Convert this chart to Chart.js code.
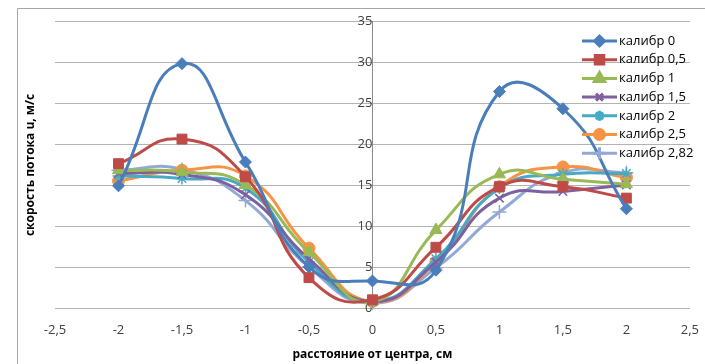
<!DOCTYPE html>
<html><head><meta charset="utf-8">
<script src="https://cdn.jsdelivr.net/npm/chart.js@4.4.1/dist/chart.umd.min.js"></script>
<style>html,body{margin:0;padding:0;background:#fff}#wrap{width:705px;height:364px;position:relative}</style>
</head><body><div id="wrap"><canvas id="c" width="705" height="364"></canvas></div>
<script>
const xValues = [-2, -1.5, -1, -0.5, 0, 0.5, 1, 1.5, 2];
const xTicks = [-2.5, -2, -1.5, -1, -0.5, 0, 0.5, 1, 1.5, 2, 2.5];
const yTicks = [0, 5, 10, 15, 20, 25, 30, 35];
const seriesNames = ["калибр 0", "калибр 0,5", "калибр 1", "калибр 1,5", "калибр 2", "калибр 2,5", "калибр 2,82"];
const cal0   = [14.9, 29.8, 17.8, 5.0, 3.3, 4.6, 26.4, 24.3, 12.1];
const cal05  = [17.6, 20.6, 16.0, 3.7, 1.0, 7.4, 14.8, 14.8, 13.4];
const cal1   = [16.8, 16.6, 15.0, 6.8, 0.8, 9.5, 16.3, 15.7, 15.1];
const cal15  = [16.4, 16.3, 13.8, 6.0, 0.8, 5.6, 13.4, 14.2, 15.0];
const cal2   = [16.1, 15.8, 14.6, 5.6, 0.8, 6.0, 14.6, 16.3, 16.4];
const cal25  = [15.5, 16.8, 16.1, 7.3, 0.8, 5.6, 14.8, 17.2, 15.9];
const cal282 = [16.8, 16.9, 13.1, 5.0, 0.6, 4.9, 11.7, 16.5, 16.5];

const seriesValues = [cal0, cal05, cal1, cal15, cal2, cal25, cal282];
const colors = ["#4A7EBB", "#BE4B48", "#98B954", "#7D60A0", "#46AAC5", "#F59445", "#93A9D5"];
const styles = [
  {pointStyle: "rectRot", radius: 6, borderWidth: 1},
  {pointStyle: "rect", radius: 7, borderWidth: 1},
  {pointStyle: "triangle", radius: 7, borderWidth: 1},
  {pointStyle: "crossRot", radius: 6, borderWidth: 1.5},
  {pointStyle: "star", radius: 6, borderWidth: 1.5},
  {pointStyle: "circle", radius: 6, borderWidth: 1},
  {pointStyle: "cross", radius: 7, borderWidth: 1.5}
];

const datasets = seriesNames.map((name, i) => ({
  label: name,
  data: xValues.map((x, j) => ({x: x, y: seriesValues[i][j]})),
  showLine: true,
  borderColor: colors[i],
  backgroundColor: colors[i],
  borderWidth: 3,
  tension: 0.5,
  pointStyle: styles[i].pointStyle,
  pointRadius: styles[i].radius,
  pointBorderWidth: styles[i].borderWidth,
  pointBorderColor: colors[i],
  pointBackgroundColor: colors[i],
  clip: false
}));

const fmt = v => String(v).replace(".", ",");

const extras = {
  id: "extras",
  beforeDraw(chart) {
    const ctx = chart.ctx;
    ctx.save();
    ctx.fillStyle = "#fff";
    ctx.fillRect(0, 0, chart.width, chart.height);
    ctx.strokeStyle = "#a6a6a6";
    ctx.lineWidth = 1;
    ctx.beginPath();
    ctx.moveTo(17.5, 400); ctx.lineTo(17.5, 8.5); ctx.lineTo(800, 8.5);
    ctx.stroke();
    ctx.restore();
  },
  afterDraw(chart) {
    const ctx = chart.ctx;
    ctx.save();
    ctx.translate(31, 165);
    ctx.rotate(-Math.PI / 2);
    ctx.font = "bold 12px 'Open Sans'";
    ctx.fillStyle = "#000";
    ctx.textAlign = "center";
    ctx.textBaseline = "middle";
    ctx.fillText("скорость потока u, м/с", 0, 0);
    ctx.restore();
    ctx.save();
    const x0 = 582, x1 = 617, yStart = 41, dy = 18.7;
    chart.data.datasets.forEach((ds, i) => {
      const y = yStart + i * dy;
      ctx.strokeStyle = ds.borderColor;
      ctx.lineWidth = 3;
      ctx.beginPath(); ctx.moveTo(x0, y); ctx.lineTo(x1, y); ctx.stroke();
      ctx.fillStyle = ds.backgroundColor;
      ctx.strokeStyle = ds.borderColor;
      Chart.helpers.drawPoint(ctx, {pointStyle: ds.pointStyle, radius: ds.pointRadius - 1, borderWidth: ds.pointBorderWidth, rotation: 0}, (x0 + x1) / 2, y);
      ctx.fillStyle = "#000";
      ctx.font = "13px 'Open Sans'";
      ctx.textAlign = "left";
      ctx.textBaseline = "middle";
      ctx.fillText(ds.label, 619, y);
    });
    ctx.restore();
  }
};

new Chart(document.getElementById("c"), {
  type: "scatter",
  data: {datasets: datasets},
  plugins: [extras],
  options: {
    responsive: false,
    animation: false,
    devicePixelRatio: 1,
    layout: {padding: {left: 55, right: -10, top: 21, bottom: 2}},
    plugins: {legend: {display: false}, tooltip: {enabled: false}},
    scales: {
      x: {
        type: "linear",
        position: "bottom",
        min: -2.5, max: 2.5,
        afterBuildTicks: axis => { axis.ticks = xTicks.map(v => ({value: v})); },
        grid: {display: false},
        border: {display: false},
        ticks: {callback: v => fmt(v), color: "#404040", font: {family: "Open Sans", size: 13}, padding: 6, maxRotation: 0},
        title: {display: true, text: "расстояние от центра, см", color: "#000", font: {family: "Open Sans", size: 12, weight: "bold"}, padding: {top: 4, bottom: 0}}
      },
      y: {
        type: "linear",
        position: {x: 0},
        min: 0, max: 35,
        afterBuildTicks: axis => { axis.ticks = yTicks.map(v => ({value: v})); },
        grid: {color: "#b3b3b3", lineWidth: 1, drawTicks: false},
        border: {display: true, color: "#8c8c8c"},
        ticks: {callback: v => fmt(v), color: "#404040", font: {family: "Open Sans", size: 13}, padding: 8}
      }
    }
  }
});
</script></body></html>
